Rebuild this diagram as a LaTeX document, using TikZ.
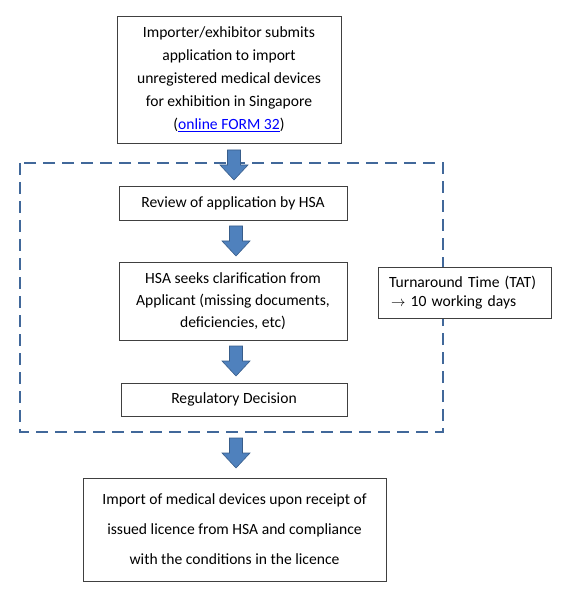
\documentclass[tikz,border=0pt]{standalone}
\usepackage{fontspec}
\setmainfont{Carlito}
\definecolor{arrfill}{HTML}{4F81BD}
\definecolor{arrdraw}{HTML}{385D8A}
\definecolor{dashc}{HTML}{41689A}
\begin{document}
\begin{tikzpicture}[x=1pt,y=-1pt,
  stepbox/.style={draw=black!75, line width=0.9pt, fill=white, align=center, inner sep=0pt},
  blockarrow/.style={fill=arrfill, draw=arrdraw, line width=0.6pt},
  txt/.style={font=\fontsize{15.6}{23}\selectfont}]
\useasboundingbox (0,0) rectangle (560,609);
% dashed frame
\draw[dashc, line width=2.4pt, dash pattern=on 12pt off 7pt] (20,163) rectangle (443,432);
% boxes
\node[stepbox, txt, minimum width=224pt, minimum height=127pt] (submit) at (229,79.5)
  {Importer/exhibitor submits\\application to import\\unregistered medical devices\\for exhibition in Singapore\\(\textcolor{blue}{\underline{online FORM 32}})};
\node[stepbox, txt, minimum width=228pt, minimum height=34pt] (review) at (233,203)
  {Review of application by HSA};
\node[stepbox, font=\fontsize{15.6}{22}\selectfont, minimum width=228pt, minimum height=78pt] (clarify) at (233,301)
  {HSA seeks clarification from\\Applicant (missing documents,\\deficiencies, etc)};
\node[stepbox, txt, minimum width=226pt, minimum height=33pt] (decision) at (234,399.5)
  {Regulatory Decision};
\node[stepbox, font=\fontsize{15.6}{30}\selectfont, minimum width=303pt, minimum height=103pt] (import) at (234.5,529.5)
  {Import of medical devices upon receipt of\\issued licence from HSA and compliance\\with the conditions in the licence};
\node[stepbox, font=\fontsize{15.6}{19}\selectfont, align=left, minimum width=173pt, minimum height=51pt, text width=151pt] (tat) at (464.5,292.5)
  {Turnaround Time (TAT)\\\hspace*{2pt}$\rightarrow$ 10 working days};
% block arrows
\foreach \cx/\ya/\yb in {234/150/180, 236/226/256, 236/346/376, 236/438/468}{
  \draw[blockarrow] (\cx-6.5,\ya) -- (\cx+6.5,\ya) -- (\cx+6.5,\ya+15) -- (\cx+14,\ya+15)
    -- (\cx,\yb) -- (\cx-14,\ya+15) -- (\cx-6.5,\ya+15) -- cycle;
}
\end{tikzpicture}
\end{document}
